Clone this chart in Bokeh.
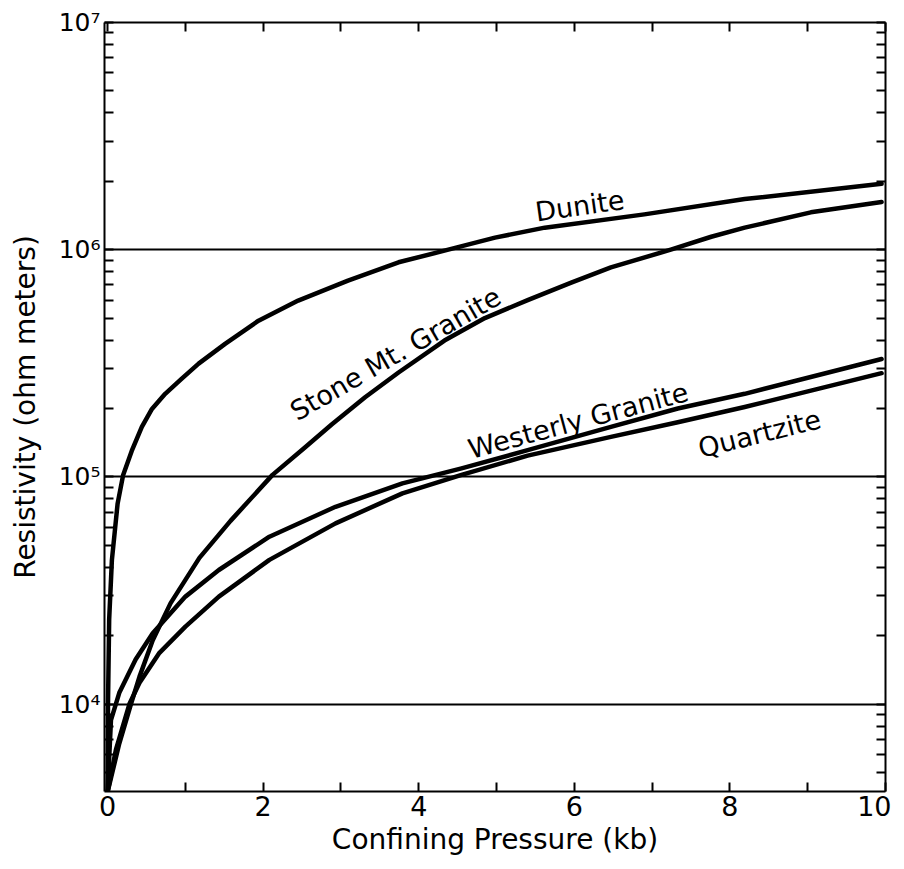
from bokeh.plotting import figure
from bokeh.models import FixedTicker, LogAxis, LinearAxis, Range1d
from bokeh.core.properties import value
from bokeh.embed import file_html
from bokeh.resources import INLINE

# ---- data ----
dunite_x = [0.0, 0.005, 0.02, 0.055, 0.128, 0.20, 0.31, 0.44, 0.57, 0.74, 0.95, 1.17, 1.51,
            1.94, 2.45, 3.09, 3.74, 4.38, 4.98, 5.62, 6.90, 8.19, 9.95]
dunite_y = [4100, 1.0e4, 2.35e4, 4.3e4, 7.6e4, 1.02e5, 1.30e5, 1.66e5, 1.99e5, 2.32e5, 2.70e5, 3.15e5, 3.85e5,
            4.87e5, 5.97e5, 7.31e5, 8.8e5, 1.0e6, 1.13e6, 1.25e6, 1.43e6, 1.67e6, 1.95e6]

stone_x = [0.0, 0.15, 0.30, 0.41, 0.58, 0.81, 1.18, 1.58, 2.12, 2.54, 2.88, 3.31, 3.74,
           4.33, 4.85, 5.40, 5.96, 6.47, 7.24, 7.76, 8.19, 9.04, 9.95]
stone_y = [4100, 6.7e3, 1.0e4, 1.32e4, 1.91e4, 2.78e4, 4.4e4, 6.4e4, 1.02e5, 1.35e5, 1.70e5, 2.24e5, 2.88e5,
           3.98e5, 5.0e5, 6.0e5, 7.16e5, 8.35e5, 1.0e6, 1.14e6, 1.25e6, 1.46e6, 1.62e6]

westerly_x = [0.0, 0.043, 0.15, 0.36, 0.58, 1.0, 1.43, 2.08, 2.93, 3.79, 4.55, 5.40, 6.47, 7.33, 8.19, 9.95]
westerly_y = [4100, 8.5e3, 1.12e4, 1.57e4, 2.05e4, 2.97e4, 3.89e4, 5.45e4, 7.38e4, 9.36e4, 1.09e5, 1.31e5, 1.66e5, 2.0e5, 2.32e5, 3.3e5]

quartzite_x = [0.0, 0.107, 0.28, 0.41, 0.66, 1.0, 1.43, 2.08, 2.93, 3.79, 4.55, 5.40, 6.47, 7.33, 8.19, 9.95]
quartzite_y = [4100, 6.3e3, 1.0e4, 1.24e4, 1.67e4, 2.19e4, 2.97e4, 4.31e4, 6.24e4, 8.46e4, 1.02e5, 1.24e5, 1.5e5, 1.74e5, 2.03e5, 2.86e5]

label_text = ["Dunite", "Stone Mt. Granite", "Westerly Granite", "Quartzite"]
label_x = [6.07, 3.70, 6.05, 8.38]
label_y = [1.56e6, 3.48e5, 1.77e5, 1.55e5]
label_angle = [8, 30, 15, 14]

x_tick_values = [0, 2, 4, 6, 8, 10]
x_minor_values = [1, 3, 5, 7, 9]
y_tick_values = [1e4, 1e5, 1e6, 1e7]
y_tick_labels = ["10\u2074", "10\u2075", "10\u2076", "10\u2077"]
y_mantissas = [2, 3, 4, 5, 6, 7, 8, 9]
y_minor_values = [m * d for d in [1e3, 1e4, 1e5, 1e6] for m in y_mantissas]

FONT = "DejaVu Sans"

p = figure(frame_width=781, frame_height=769, y_axis_type="log",
           x_range=Range1d(-0.04, 10), y_range=Range1d(4120, 1.0e7),
           output_backend="svg", toolbar_location=None,
           min_border_left=104, min_border_top=22, min_border_right=6, min_border_bottom=50)
p.outline_line_color = None
p.background_fill_color = "white"
p.border_fill_color = "white"
p.xgrid.visible = False
p.ygrid.grid_line_color = "black"
p.ygrid.grid_line_width = 2

xt = FixedTicker(ticks=x_tick_values, minor_ticks=x_minor_values)
yt = FixedTicker(ticks=y_tick_values, minor_ticks=y_minor_values)


def style_axis(ax, show_labels):
    ax.axis_line_color = "black"
    ax.axis_line_width = 2
    ax.major_tick_line_width = 2
    ax.minor_tick_line_width = 2
    ax.major_tick_line_color = "black"
    ax.minor_tick_line_color = "black"
    ax.major_tick_in = 9
    ax.major_tick_out = 0
    ax.minor_tick_in = 9
    ax.minor_tick_out = 0
    if show_labels:
        ax.major_label_text_font = FONT
        ax.major_label_text_color = "black"
        ax.major_label_standoff = 4
        ax.axis_label_text_font = FONT
        ax.axis_label_text_font_style = "normal"
        ax.axis_label_text_color = "black"
        ax.axis_label_text_font_size = "28px"
    else:
        ax.major_label_text_color = None
        ax.major_label_standoff = 0


xa = p.xaxis[0]
xa.ticker = xt
style_axis(xa, True)
xa.major_label_text_font_size = "27px"
xa.axis_label = "Confining Pressure (kb)"
xa.axis_label_standoff = 4

ya = p.yaxis[0]
ya.ticker = yt
style_axis(ya, True)
ya.major_label_text_font_size = "25px"
ya.major_label_overrides = dict(zip(y_tick_values, y_tick_labels))
ya.axis_label = "Resistivity (ohm meters)"
ya.axis_label_standoff = 14

top = LinearAxis(ticker=xt)
style_axis(top, False)
p.add_layout(top, "above")

right = LogAxis(ticker=yt)
style_axis(right, False)
p.add_layout(right, "right")

for xs, ys in [(dunite_x, dunite_y), (stone_x, stone_y),
               (westerly_x, westerly_y), (quartzite_x, quartzite_y)]:
    p.line(xs, ys, line_color="black", line_width=4.5, line_join="round", line_cap="round")

p.text(x=label_x, y=label_y, text=label_text, angle=label_angle, angle_units="deg",
       text_font=value(FONT), text_font_size=value("27px"), text_color="black",
       text_align="center", text_baseline="middle")

open("out.html", "w").write(file_html(p, INLINE))
